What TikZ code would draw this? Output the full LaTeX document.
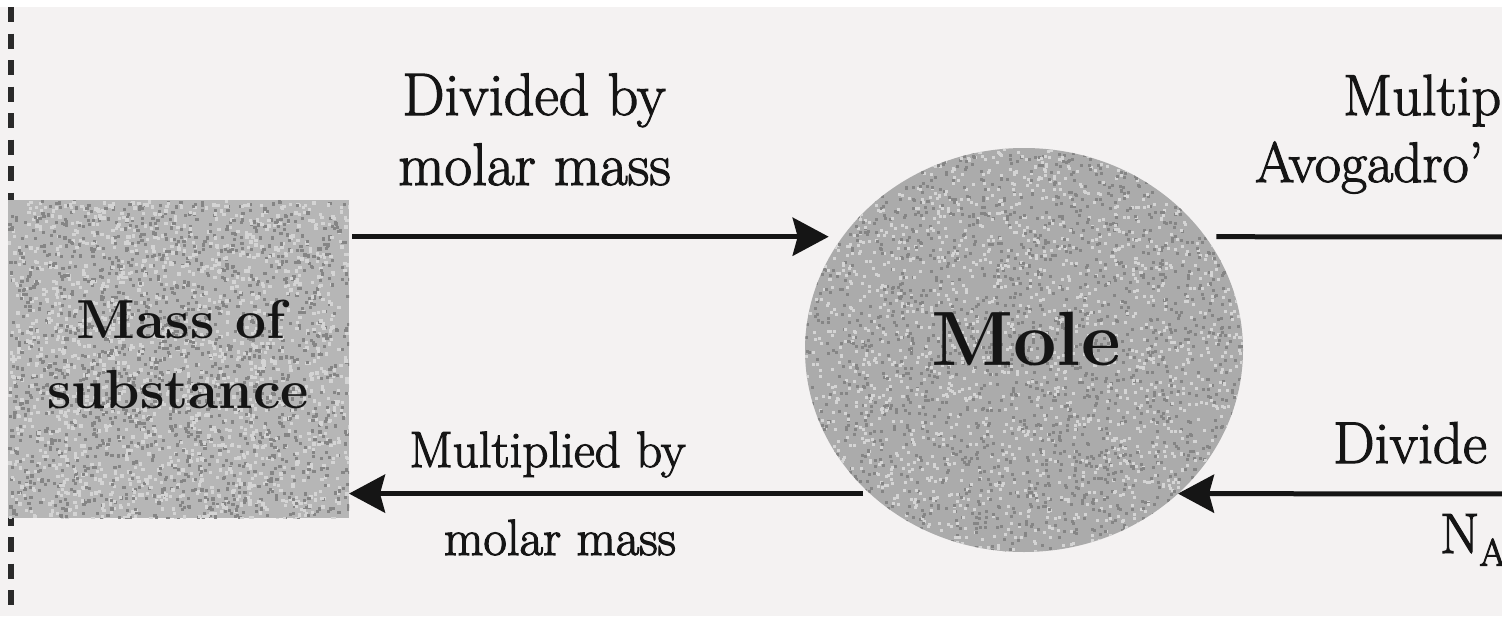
\documentclass[tikz,border=0pt]{standalone}
\usepackage{fontspec}
\usetikzlibrary{arrows.meta,shapes.geometric}
\definecolor{paper}{HTML}{F4F2F2}
\definecolor{boxgray}{HTML}{B6B6B6}
\definecolor{molegray}{HTML}{ABABAB}
\definecolor{grainD}{HTML}{858585}
\definecolor{grainL}{HTML}{D4D4D4}
\definecolor{ink}{HTML}{151515}
\definecolor{dashink}{HTML}{2A2A2A}
\tikzset{
  arr/.style={draw=ink, line width=5pt, -{Stealth[length=36pt,width=38pt,inset=5pt]}},
  plain/.style={draw=ink, line width=5pt},
  lbl/.style={inner sep=0pt, outer sep=0pt, text=ink},
  boxnode/.style={rectangle, fill=boxgray, inner sep=0pt, outer sep=0pt, minimum width=341pt, minimum height=318pt},
  molenode/.style={ellipse, fill=molegray, inner sep=0pt, outer sep=0pt, minimum width=438pt, minimum height=404pt},
}
\newcommand{\fsz}[2]{\fontsize{#1}{#2}\selectfont}
\newcommand{\heavy}[1]{\special{pdf:literal direct 2 Tr 1.1 w}#1\special{pdf:literal direct 0 Tr}}
\begin{document}
\begin{tikzpicture}[x=1pt,y=-1pt]
\useasboundingbox (0,0) rectangle (1502,616);
\clip (0,0) rectangle (1502,616);
\fill[white] (0,0) rectangle (1502,616);
\fill[paper] (0,7) rectangle (1502,616);
% dashed margin line
\draw[dashink, line width=6pt, dash pattern=on 15pt off 11.5pt] (11,7) -- (11,616);
% shapes
\node[boxnode] (box) at (178.5,359) {};
\node[molenode] (mole) at (1024,350) {};
% grain
\pgfmathsetseed{7}
\begin{scope}
\clip (8,200) rectangle (349,518);
\foreach \i in {1,...,1600}{
  \pgfmathsetmacro\px{8+341*rnd}\pgfmathsetmacro\py{200+318*rnd}
  \fill[grainD] (\px,\py) rectangle ++(3.2,3.2);
  \pgfmathsetmacro\qx{8+341*rnd}\pgfmathsetmacro\qy{200+318*rnd}
  \fill[grainL] (\qx,\qy) rectangle ++(3.4,3.4);
}
\end{scope}
\begin{scope}
\clip (1024,350) ellipse [x radius=219pt, y radius=202pt];
\foreach \i in {1,...,2000}{
  \pgfmathsetmacro\px{805+438*rnd}\pgfmathsetmacro\py{148+404*rnd}
  \fill[grainD] (\px,\py) rectangle ++(3,3);
  \pgfmathsetmacro\qx{805+438*rnd}\pgfmathsetmacro\qy{148+404*rnd}
  \fill[grainL] (\qx,\qy) rectangle ++(3,3);
}
\end{scope}
% node texts
\node[lbl, anchor=base] (mass1) at (181,338) {\fsz{55}{70}\bfseries Mass of};
\node[lbl, anchor=base] (mass2) at (178,408) {\fsz{55}{70}\bfseries substance};
\node[lbl, anchor=base] (moletext) at (1026,365) {\fsz{77}{80}\bfseries Mole};
% free ends at the right edge
\coordinate (rt) at (1510,237);
\coordinate (rb) at (1510,494);
% connectors
\draw[arr] ([xshift=3pt]box.east |- mole.148) -- ([xshift=-14pt]mole.148);
\draw[arr, shorten <=7pt] (mole.223) -- (box.east |- mole.223);
\draw[plain] ([xshift=11pt]mole.32) -- (rt);
\draw[arr] (rb) -- (mole.317);
% labels
\node[lbl, anchor=base] (l1a) at (534,115) {\heavy{\fsz{60}{63}Divided by}};
\node[lbl, anchor=base] (l1b) at (534.5,185) {\heavy{\fsz{60}{63}molar mass}};
\node[lbl, anchor=base] (l2a) at (547.5,467) {\heavy{\fsz{51}{60}Multiplied by}};
\node[lbl, anchor=base] (l2b) at (560,555) {\heavy{\fsz{51}{60}molar mass}};
\node[lbl, anchor=base west] (l3a) at (1343,115) {\heavy{\fsz{58}{63}Multip}};
\node[lbl, anchor=base west] (l3b) at (1255,182) {\heavy{\fsz{57}{63}Avogadro’}};
\node[lbl, anchor=base west] (l4a) at (1333,463) {\heavy{\fsz{59}{63}Divide}};
\node[lbl, anchor=base west] (l4b) at (1440,553) {\heavy{\fsz{57}{63}N\raisebox{-0.22em}{\fsz{38}{40}A}}};
\end{tikzpicture}
\end{document}
